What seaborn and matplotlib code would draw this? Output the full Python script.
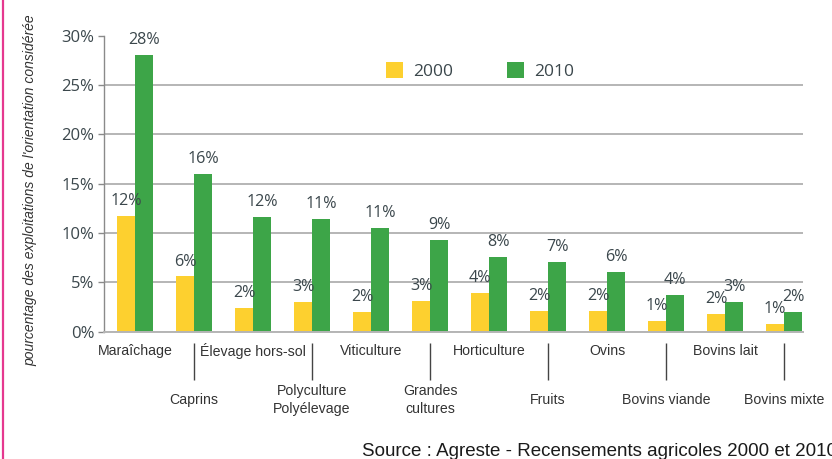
import matplotlib
matplotlib.use("Agg")
import matplotlib.pyplot as plt
import matplotlib.transforms as mtransforms
from matplotlib.lines import Line2D
import seaborn as sns
import pandas as pd

# ---------------- data ----------------
categories = ["Maraîchage", "Caprins", "Élevage hors-sol", "Polyculture\nPolyélevage",
              "Viticulture", "Grandes\ncultures", "Horticulture", "Fruits", "Ovins",
              "Bovins viande", "Bovins lait", "Bovins mixte"]
years = ["2000", "2010"]
values_2000 = [11.75, 5.6, 2.4, 3.0, 2.0, 3.1, 3.9, 2.1, 2.1, 1.1, 1.8, 0.8]
values_2010 = [28.0, 16.0, 11.6, 11.4, 10.5, 9.3, 7.6, 7.1, 6.05, 3.7, 3.0, 2.0]
labels_2000 = ["12%", "6%", "2%", "3%", "2%", "3%", "4%", "2%", "2%", "1%", "2%", "1%"]
labels_2010 = ["28%", "16%", "12%", "11%", "11%", "9%", "8%", "7%", "6%", "4%", "3%", "2%"]
yticks = [0, 5, 10, 15, 20, 25, 30]
ytick_labels = ["0%", "5%", "10%", "15%", "20%", "25%", "30%"]
ylabel = "pourcentage des exploitations de l'orientation considérée"
source = "Source : Agreste - Recensements agricoles 2000 et 2010"

# ---------------- style ----------------
sns.set_style("white")
plt.rcParams["font.family"] = ["Open Sans", "DejaVu Sans"]
YELLOW = "#FDD02F"
GREEN = "#3DA548"
TXT = "#3b474c"
GRID = "#b5b5b5"
narrow = ["Liberation Sans Narrow", "DejaVu Sans Condensed", "Liberation Sans"]

df = pd.DataFrame({
    "cat": categories * 2,
    "year": [years[0]] * len(categories) + [years[1]] * len(categories),
    "value": values_2000 + values_2010,
})

fig = plt.figure(figsize=(8.32, 4.59), dpi=100)
ax = fig.add_axes([104 / 832, 1 - 331.7 / 459, 699 / 832, 296 / 459])

sns.barplot(data=df, x="cat", y="value", hue="year", palette=[YELLOW, GREEN],
            width=0.61, gap=0, saturation=1, linewidth=0, ax=ax, legend=True)

ax.set_ylim(0, 30)
ax.set_xlim(-0.525, 11.32)
ax.set_xlabel("")
ax.set_ylabel("")

# y axis
ax.set_yticks(yticks, labels=ytick_labels)
ax.tick_params(axis="y", length=4, width=1, color="#8a8a8a", pad=3,
               labelsize=12, labelcolor=TXT, left=True)
ax.yaxis.grid(True, color=GRID, lw=1.4)
ax.set_axisbelow(True)
ax.get_ygridlines()[-1].set_visible(False)

for s in ["top", "right"]:
    ax.spines[s].set_visible(False)
ax.spines["left"].set_color("#8a8a8a")
ax.spines["left"].set_linewidth(1)
ax.spines["bottom"].set_color(GRID)
ax.spines["bottom"].set_linewidth(1.4)

# x axis: staggered labels
ax.set_xticks(range(len(categories)), labels=categories)
ax.tick_params(axis="x", length=0)
for i, (tk, lab) in enumerate(zip(ax.xaxis.get_major_ticks(), ax.get_xticklabels())):
    lab.set_verticalalignment("center")
    lab.set_fontfamily(narrow)
    lab.set_fontsize(10.2)
    lab.set_color("#333333")
    lab.set_linespacing(1.3)
    tk.set_pad(13.9 if i % 2 == 0 else 49.2)

trans = mtransforms.blended_transform_factory(ax.transData, ax.transAxes)
odd = [i for i in range(len(categories)) if i % 2 == 1]
ax.vlines(odd, -0.038, -0.163, transform=trans, clip_on=False, color="#444444", lw=1)

# value labels
for cont, labs in zip(ax.containers, [labels_2000, labels_2010]):
    ax.bar_label(cont, labels=labs, padding=5, fontsize=11.6, color=TXT)

# legend
handles, labels = ax.get_legend_handles_labels()
ax.get_legend().remove()
fig.legend(handles, labels, loc="upper left", bbox_to_anchor=(386 / 832, 1 - 62 / 459),
           ncol=2, frameon=False, borderpad=0, borderaxespad=0, handlelength=1.0,
           handleheight=1.0, handletextpad=0.55, columnspacing=3.1, fontsize=12.5,
           labelcolor=TXT)

# y label
fig.text(30 / 832, 1 - 190 / 459, ylabel, rotation=90, ha="center", va="center",
         fontsize=10, style="italic", family=narrow, color="#333333")

# source
fig.text(362 / 832, 1 - 456 / 459, source, ha="left", va="baseline",
         fontsize=13.5, family=["Liberation Sans", "DejaVu Sans"], color="#1a1a1a")

# pink frame line on the left
fig.add_artist(Line2D([2.5 / 832, 2.5 / 832], [0, 1], transform=fig.transFigure,
                      color="#E5388F", lw=1.6))

fig.savefig("out.png", dpi=100)
